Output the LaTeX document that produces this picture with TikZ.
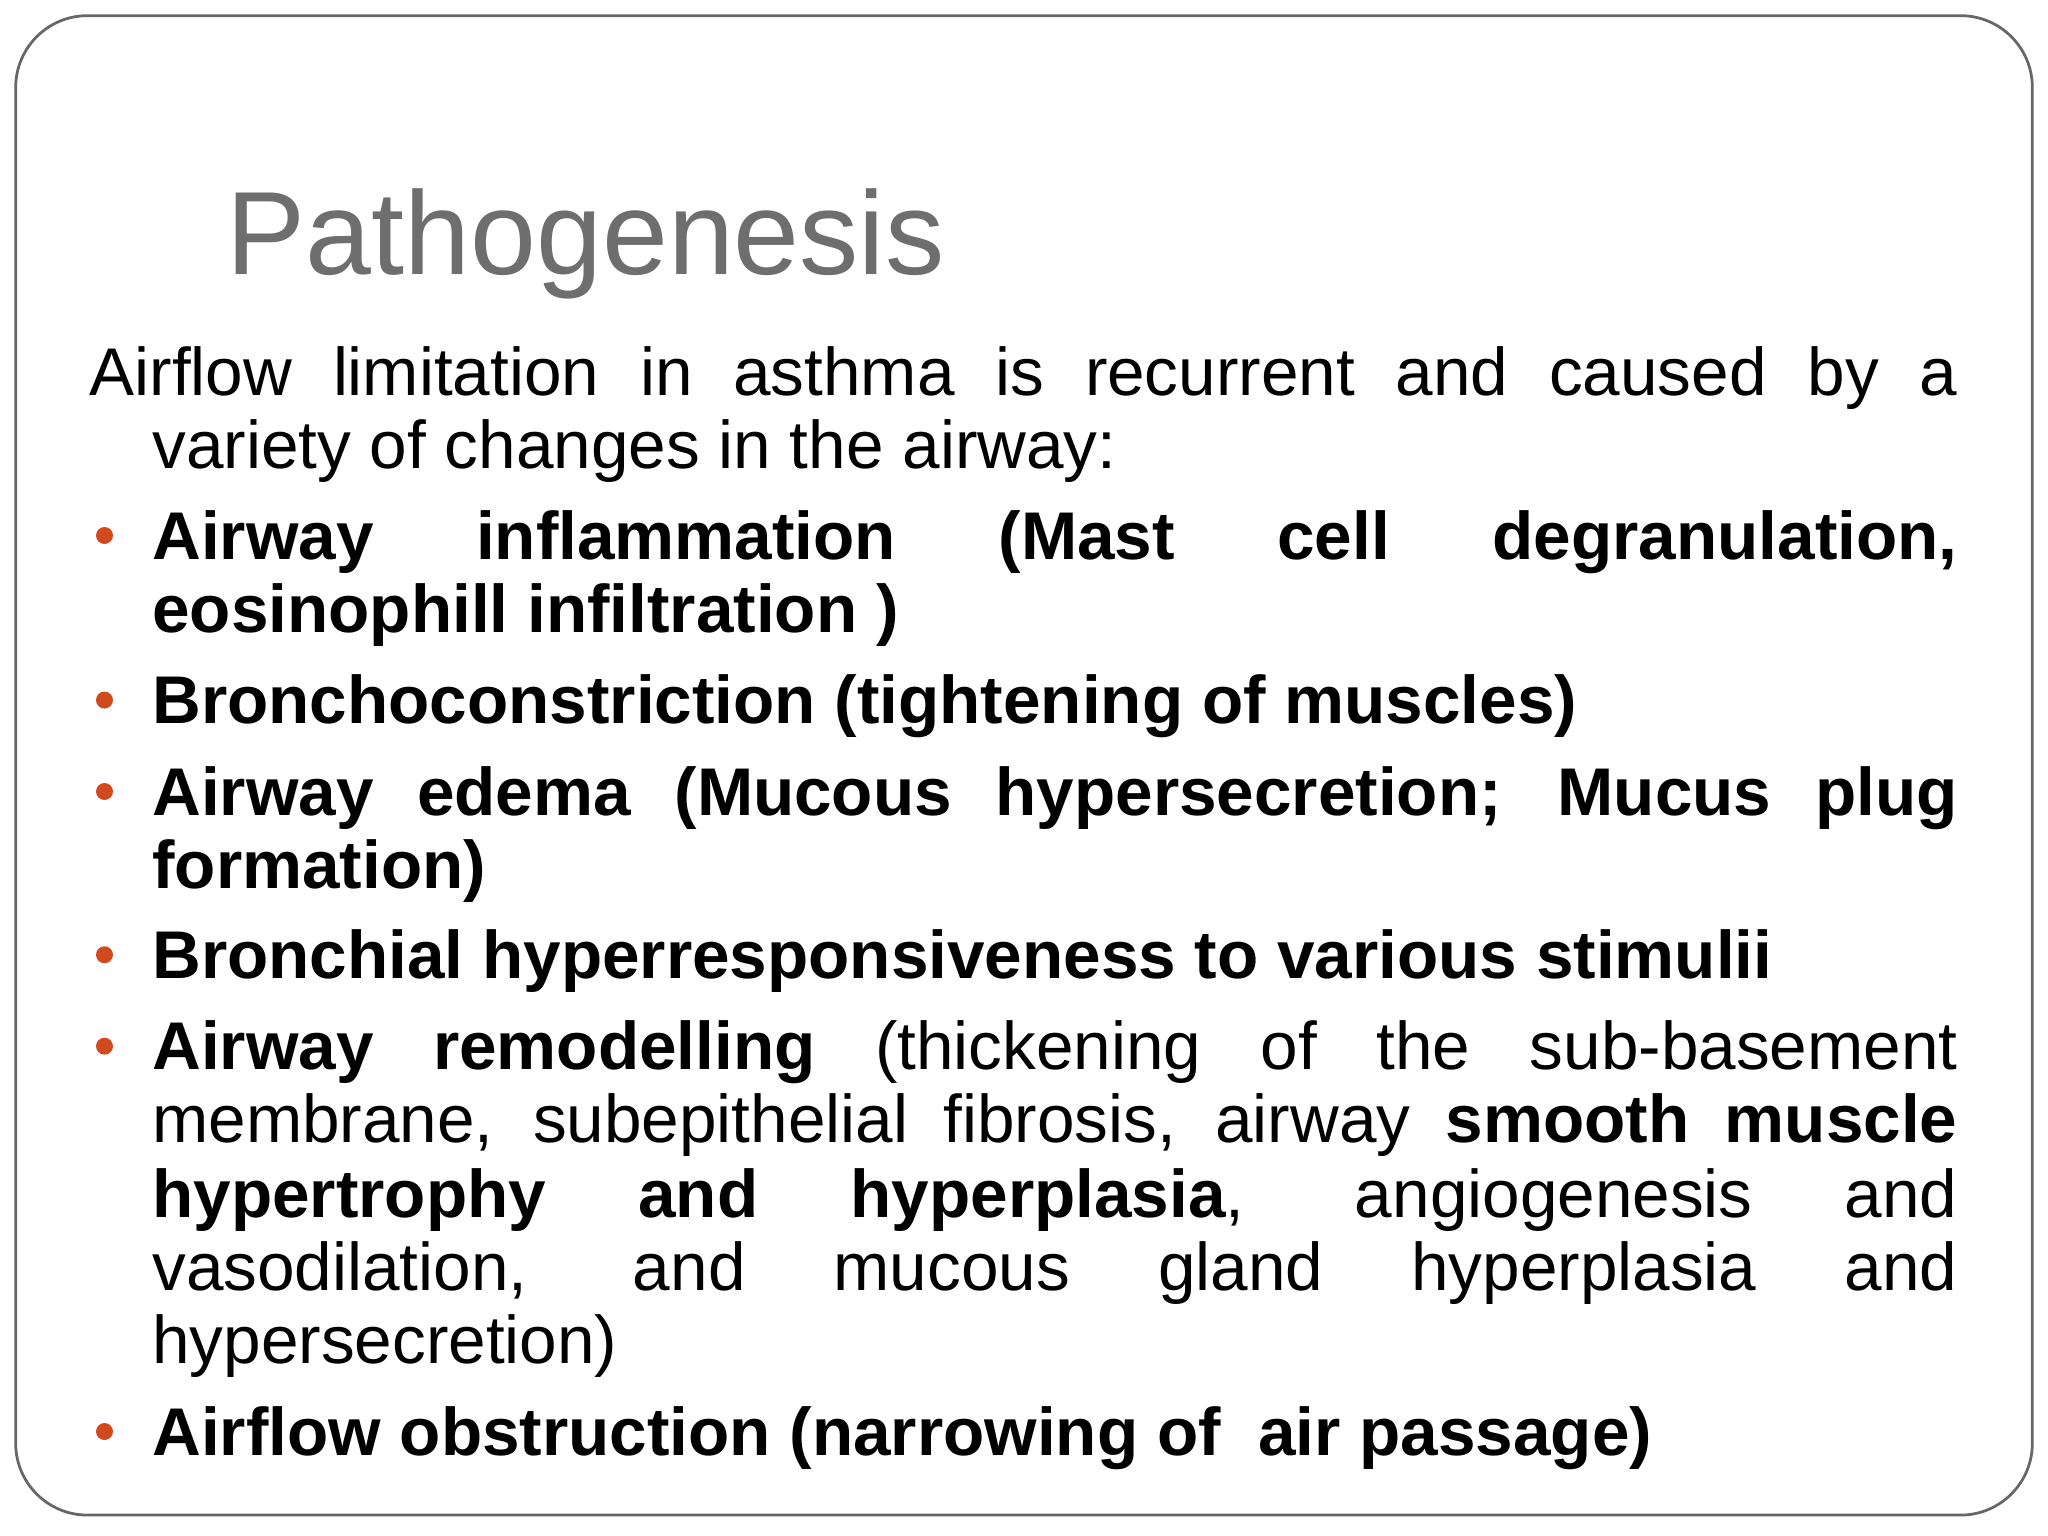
\documentclass[tikz,border=0pt]{standalone}
\usepackage{fontspec}
\setmainfont{Liberation Sans}
\definecolor{bul}{HTML}{D04A1E}
\definecolor{ttl}{HTML}{6E6E6E}
\newcommand{\Jline}[3]{\node[anchor=base west,inner sep=0pt,font=\fontsize{14.7}{17}\selectfont] (#1) at (1.16,-#2) {\makebox[13.82cm][s]{#3}};}
\newcommand{\Pline}[4]{\node[anchor=base west,inner sep=0pt,font=\fontsize{14.7}{17}\selectfont] (#1) at (#2,-#3) {#4};}
\newcommand{\Bul}[2]{\fill[bul] (0.80,-#2) circle (0.065) coordinate (#1);}
\begin{document}
\begin{tikzpicture}
\useasboundingbox (0,0) rectangle (15.68,-11.76);
\draw[gray!80!black,line width=0.6pt,rounded corners=0.55cm] (0.12,-0.12) rectangle (15.56,-11.60);
\node[anchor=base west,inner sep=0pt,text=ttl,font=\fontsize{25.8}{30}\selectfont] (title) at (1.73,-2.10) {Pathogenesis};
\node[anchor=base west,inner sep=0pt,font=\fontsize{14.7}{17}\selectfont] (l1) at (0.68,-3.03) {\makebox[14.30cm][s]{Airflow limitation in asthma is recurrent and caused by a}};
\Pline{l2}{1.16}{3.59}{variety of changes in the airway:}
\Bul{b1}{4.10}
\Jline{l3}{4.28}{\bfseries Airway inflammation (Mast cell degranulation,}
\Pline{l4}{1.16}{4.84}{\bfseries eosinophill infiltration )}
\Bul{b2}{5.36}
\Pline{l5}{1.16}{5.54}{\bfseries Bronchoconstriction (tightening of muscles)}
\Bul{b3}{6.06}
\Jline{l6}{6.24}{\bfseries Airway edema (Mucous hypersecretion; Mucus plug}
\Pline{l7}{1.16}{6.80}{\bfseries formation)}
\Bul{b4}{7.31}
\Pline{l8}{1.16}{7.49}{\bfseries Bronchial hyperresponsiveness to various stimulii}
\Bul{b5}{8.01}
\Jline{l9}{8.19}{\textbf{Airway remodelling} (thickening of the sub-basement}
\Jline{l10}{8.75}{membrane, subepithelial fibrosis, airway \textbf{smooth muscle}}
\Jline{l11}{9.32}{\textbf{hypertrophy and hyperplasia}, angiogenesis and}
\Jline{l12}{9.88}{vasodilation, and mucous gland hyperplasia and}
\Pline{l13}{1.16}{10.44}{hypersecretion)}
\Bul{b6}{10.96}
\Pline{l14}{1.16}{11.14}{\bfseries Airflow obstruction (narrowing of\ \ air passage)}
\end{tikzpicture}
\end{document}
